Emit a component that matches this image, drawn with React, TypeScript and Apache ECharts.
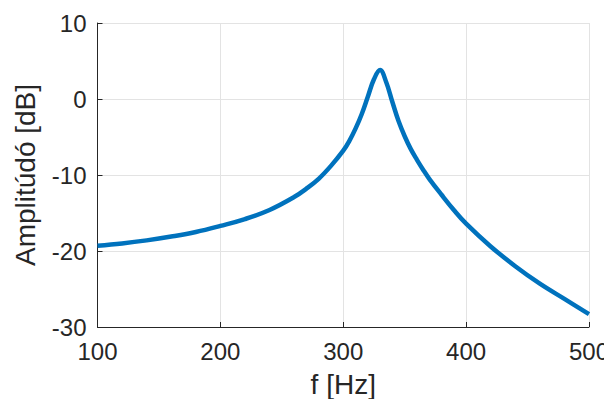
import React, { useEffect, useRef } from "react";
import * as echarts from "echarts";

// Frequency response samples: frequency [Hz] and amplitude [dB]
const freqHz = [
  100, 120, 140, 160, 180, 200, 220, 240, 260, 270, 280, 290, 300, 305, 310,
  315, 320, 325, 330, 335, 340, 345, 350, 355, 360, 365, 370, 380, 390, 400,
  420, 440, 460, 480, 500,
];
const amplitudeDb = [
  -19.3, -19.0, -18.6, -18.1, -17.5, -16.7, -15.8, -14.6, -12.9, -11.8, -10.5,
  -8.8, -6.8, -5.5, -3.9, -2.0, 0.3, 2.6, 3.8, 2.2, -0.4, -2.9, -4.9, -6.6,
  -8.0, -9.3, -10.5, -12.6, -14.6, -16.4, -19.4, -22.0, -24.3, -26.3, -28.3,
];

const xTicks = [100, 200, 300, 400, 500];
const yTicks = [-30, -20, -10, 0, 10];

const FONT = "Liberation Sans, Arial, sans-serif";
const AXIS_COLOR = "#262626";
const GRID_COLOR = "#e3e3e3";
const TICK_SIZE = 24;
const NAME_SIZE = 28;

export default function App() {
  const ref = useRef<HTMLDivElement>(null);

  useEffect(() => {
    if (!ref.current) return;
    const chart = echarts.init(ref.current, undefined, { renderer: "svg" });
    const points = freqHz.map((f, i) => [f, amplitudeDb[i]]);

    chart.setOption({
      animation: false,
      backgroundColor: "#ffffff",
      grid: { left: 97.5, right: 22, top: 23, bottom: 80, containLabel: false },
      xAxis: {
        type: "value",
        min: xTicks[0],
        max: xTicks[xTicks.length - 1],
        interval: 100,
        name: "f [Hz]",
        nameLocation: "middle",
        nameGap: 43,
        nameTextStyle: { fontFamily: FONT, fontSize: NAME_SIZE, color: AXIS_COLOR },
        axisLine: { onZero: false, lineStyle: { color: AXIS_COLOR, width: 1 } },
        axisTick: { inside: true, length: 5, lineStyle: { color: AXIS_COLOR } },
        axisLabel: {
          fontFamily: FONT,
          fontSize: TICK_SIZE,
          color: AXIS_COLOR,
          margin: 12,
          showMinLabel: true,
          showMaxLabel: true,
        },
        splitLine: { show: true, lineStyle: { color: GRID_COLOR, width: 1 } },
      },
      yAxis: {
        type: "value",
        min: yTicks[0],
        max: yTicks[yTicks.length - 1],
        interval: 10,
        name: "Amplitúdó [dB]",
        nameLocation: "middle",
        nameRotate: 90,
        nameGap: 58,
        nameTextStyle: { fontFamily: FONT, fontSize: NAME_SIZE, color: AXIS_COLOR },
        axisLine: { show: true, onZero: false, lineStyle: { color: AXIS_COLOR, width: 1 } },
        axisTick: { show: true, inside: true, length: 5, lineStyle: { color: AXIS_COLOR } },
        axisLabel: { fontFamily: FONT, fontSize: TICK_SIZE, color: AXIS_COLOR, margin: 11 },
        splitLine: { show: true, lineStyle: { color: GRID_COLOR, width: 1 } },
      },
      series: [
        {
          type: "line",
          data: points,
          smooth: 0.4,
          showSymbol: false,
          lineStyle: { color: "#0072BD", width: 4.5 },
          clip: true,
        },
      ],
    });

    return () => chart.dispose();
  }, []);

  return <div ref={ref} style={{ width: 612, height: 407, margin: -8 }} />;
}
